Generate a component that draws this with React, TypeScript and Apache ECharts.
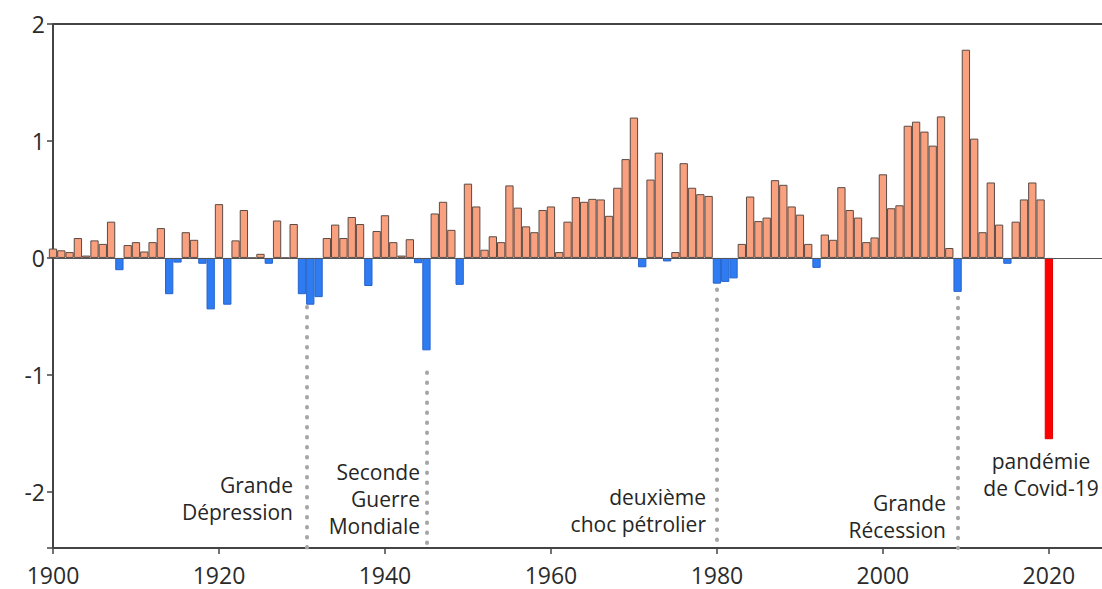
import React, { useEffect, useRef } from "react";
import * as echarts from "echarts";

// Years 1900..2020
const startYear = 1900;
const values: number[] = [
  0.08, 0.065, 0.05, 0.17, 0.02, 0.15, 0.12, 0.31, -0.105, 0.11, // 1900-1909
  0.135, 0.055, 0.135, 0.255, -0.31, -0.04, 0.22, 0.155, -0.05, -0.44, // 1910-1919
  0.46, -0.4, 0.15, 0.41, 0.0, 0.035, -0.05, 0.32, 0.0, 0.29, // 1920-1929
  -0.31, -0.4, -0.335, 0.17, 0.285, 0.17, 0.35, 0.29, -0.24, 0.23, // 1930-1939
  0.365, 0.135, 0.02, 0.16, -0.045, -0.79, 0.38, 0.48, 0.24, -0.23, // 1940-1949
  0.635, 0.44, 0.07, 0.185, 0.135, 0.62, 0.43, 0.27, 0.22, 0.41, // 1950-1959
  0.44, 0.05, 0.31, 0.52, 0.48, 0.505, 0.5, 0.36, 0.6, 0.845, // 1960-1969
  1.2, -0.08, 0.67, 0.9, -0.03, 0.05, 0.81, 0.6, 0.545, 0.53, // 1970-1979
  -0.22, -0.205, -0.175, 0.12, 0.525, 0.315, 0.345, 0.665, 0.625, 0.44, // 1980-1989
  0.37, 0.12, -0.085, 0.2, 0.155, 0.605, 0.41, 0.345, 0.135, 0.175, // 1990-1999
  0.715, 0.425, 0.45, 1.13, 1.165, 1.08, 0.96, 1.21, 0.085, -0.29, // 2000-2009
  1.78, 1.02, 0.22, 0.645, 0.285, -0.05, 0.31, 0.5, 0.645, 0.5, // 2010-2019
  -1.55, // 2020
];
const years: number[] = values.map((_, i) => startYear + i);
const highlightYear = 2020;

const xTicks = [1900, 1920, 1940, 1960, 1980, 2000, 2020];
const yTicks = [-2, -1, 0, 1, 2];

// Event markers: year, top of dotted line (value)
const eventYears = [1930.6, 1945, 1980, 2009];
const eventTops = [-0.42, -0.98, -0.27, -0.34];
const eventLabels = [
  "Grande\nDépression",
  "Seconde\nGuerre\nMondiale",
  "deuxième\nchoc pétrolier",
  "Grande\nRécession",
  "pandémie\nde Covid-19",
];

const Y_MIN = -2.48;
const Y_MAX = 2;
const X_MAX = 2026.4;

export default function App() {
  const ref = useRef<HTMLDivElement>(null);
  useEffect(() => {
    document.body.style.margin = "0";
    if (!ref.current) return;
    const chart = echarts.init(ref.current, undefined, { renderer: "svg" });

    const barData = values.map((v, i) => {
      const y = years[i];
      let color = "#f9a07f";
      let border = "#5a4b45";
      if (y === highlightYear) {
        color = "#ff0000";
        border = "#e00000";
      } else if (v < 0) {
        color = "#2f7cf2";
        border = "#2563cc";
      }
      return { value: [y, v], itemStyle: { color, borderColor: border, borderWidth: 1 } };
    });

    const dotStyle = {
      color: "#a6a6a6",
      width: 4,
      type: [0.5, 9.5] as any,
      cap: "round",
    };

    const markLines: any[] = [
      { yAxis: 0, lineStyle: { color: "#555", width: 1, type: "solid" } },
      { yAxis: 2, lineStyle: { color: "#444", width: 2, type: "solid" } },
      ...eventYears.map((ey, i) => [
        { coord: [ey, eventTops[i]], lineStyle: dotStyle },
        { coord: [ey, Y_MIN] },
      ]),
    ];

    const textFont = '21px "Open Sans", sans-serif';
    const textColor = "#262626";
    const textPos = [
      { x: 293, y: 471.5, align: "right" },
      { x: 420, y: 458, align: "right" },
      { x: 706, y: 483, align: "right" },
      { x: 946, y: 489, align: "right" },
      { x: 1041, y: 447, align: "center" },
    ];

    chart.setOption({
      animation: false,
      backgroundColor: "#ffffff",
      grid: { left: 53, top: 24, right: 0, bottom: 41, containLabel: false, outerBoundsMode: "none" },
      xAxis: {
        type: "value",
        min: 1900,
        max: X_MAX,
        interval: 20,
        splitLine: { show: false },
        axisLine: { show: true, onZero: false, lineStyle: { color: "#444", width: 2 } },
        axisTick: { show: true, length: 6, lineStyle: { color: "#444", width: 1.5 } },
        axisLabel: {
          showMaxLabel: false,
          margin: 15,
          color: "#2b2b2b",
          fontFamily: "Open Sans",
          fontSize: 23,
          formatter: (v: number) => (xTicks.indexOf(v) >= 0 ? String(v) : ""),
        },
      },
      yAxis: {
        type: "value",
        min: Y_MIN,
        max: Y_MAX,
        splitLine: { show: false },
        axisLine: { show: true, onZero: false, lineStyle: { color: "#444", width: 2 } },
        axisTick: { show: true, length: 6, lineStyle: { color: "#444", width: 1.5 } },
        axisLabel: {
          margin: 8,
          color: "#2b2b2b",
          fontFamily: "Open Sans",
          fontSize: 23,
          formatter: (v: number) => (yTicks.indexOf(v) >= 0 ? String(v) : ""),
        },
      },
      series: [
        {
          type: "bar",
          data: barData,
          barWidth: 8.3,
          clip: true,
          markLine: {
            silent: true,
            symbol: ["none", "none"],
            label: { show: false },
            emphasis: { disabled: true },
            data: markLines,
          },
        },
      ],
      graphic: eventLabels.map((t, i) => ({
        type: "text",
        x: textPos[i].x,
        y: textPos[i].y,
        silent: true,
        style: {
          text: t,
          font: textFont,
          fill: textColor,
          textAlign: textPos[i].align,
          textVerticalAlign: "top",
          lineHeight: 27,
        },
      })),
    });
    return () => chart.dispose();
  }, []);
  return <div ref={ref} style={{ width: 1102, height: 589 }} />;
}
